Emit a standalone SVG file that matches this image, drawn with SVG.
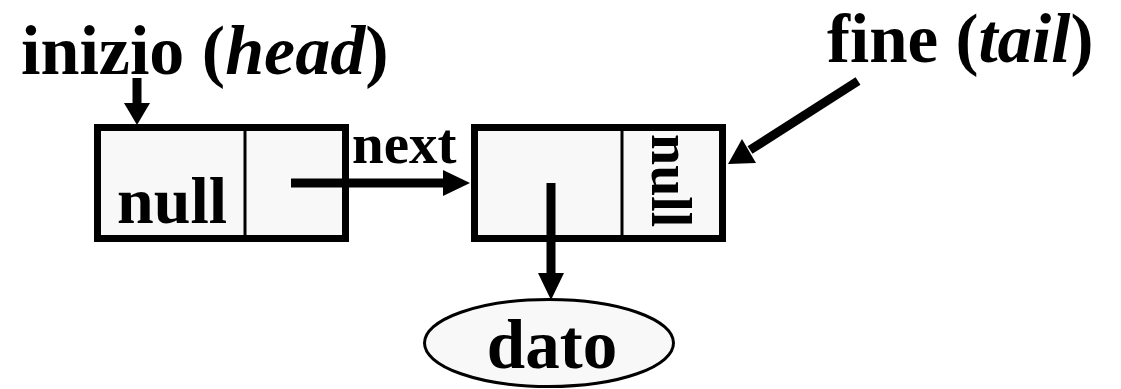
<svg xmlns="http://www.w3.org/2000/svg" width="1121" height="389" viewBox="0 0 1121 389">
<style>
.box{fill:#f8f8f8;stroke:#000;stroke-width:7}
.div{stroke:#000;stroke-width:3}
.ln{stroke:#000;stroke-width:9;fill:none}
.hd{fill:#000}
.t{font-family:"Liberation Serif","Times New Roman",serif;font-weight:bold;fill:#000}
.it{font-style:italic}
</style>
<rect width="1121" height="389" fill="#fff"/>
<g id="label-head">
<text class="t" x="21" y="74" font-size="70">inizio (<tspan class="it">head</tspan>)</text>
</g>
<g id="label-tail">
<text class="t" x="827" y="62" font-size="69">fine (<tspan class="it">tail</tspan>)</text>
</g>
<g id="node1">
<rect class="box" x="97.5" y="127.5" width="248" height="111"/>
<line class="div" x1="245" y1="128" x2="245" y2="238"/>
<text class="t" x="117" y="223" font-size="66">null</text>
</g>
<g id="node2">
<rect class="box" x="474.5" y="127.5" width="248" height="111"/>
<line class="div" x1="622" y1="128" x2="622" y2="238"/>
<text class="t" font-size="56" transform="translate(652,134) rotate(90)" x="0" y="0">null</text>
</g>
<g id="dato">
<ellipse cx="549" cy="343" rx="124.5" ry="43.5" fill="#f8f8f8" stroke="#000" stroke-width="3"/>
<text class="t" x="552" y="368" font-size="69" text-anchor="middle">dato</text>
</g>
<g id="connectors">
<line class="ln" x1="137" y1="78" x2="137" y2="105"/>
<polygon class="hd" points="124,103 150,103 137,125"/>
<line class="ln" x1="291" y1="183" x2="445" y2="183"/>
<polygon class="hd" points="443,170 470,183 443,196"/>
<text class="t" x="352" y="163" font-size="57">next</text>
<line class="ln" x1="551" y1="183" x2="551" y2="275"/>
<polygon class="hd" points="538,273 564,273 551,300"/>
<line class="ln" x1="858" y1="81" x2="750" y2="150"/>
<polygon class="hd" points="742,139 756,163 728,164"/>
</g>
</svg>
